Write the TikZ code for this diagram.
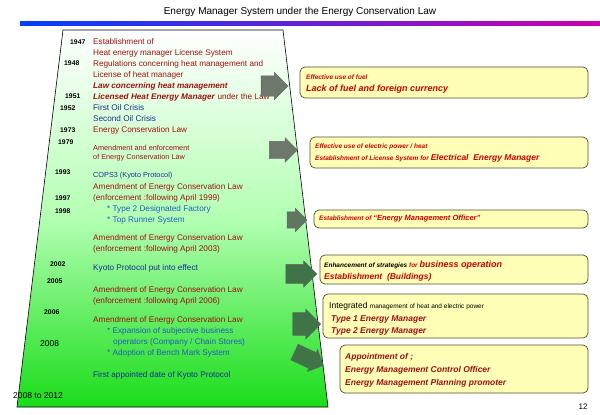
\documentclass[tikz,border=0pt]{standalone}
\usepackage{fontspec}
\setmainfont{Liberation Sans}
\usetikzlibrary{shapes.arrows}
\definecolor{lawred}{HTML}{A01010}
\definecolor{crisisblue}{HTML}{1A2E90}
\definecolor{itemblue}{HTML}{1F5FC0}
\definecolor{boxred}{HTML}{D00000}
\definecolor{boxfill}{HTML}{FFFFB8}
\definecolor{boxdraw}{HTML}{505030}
\definecolor{agray}{HTML}{6E776C}
\definecolor{agreen}{HTML}{3E7446}
\tikzset{
  txt/.style={anchor=west,inner sep=0pt,font=\fontsize{8.2}{9}\selectfont},
  yr/.style={anchor=west,inner sep=0pt,font=\fontsize{6.8}{8}\selectfont\bfseries},
  law/.style={txt,text=lawred},
  cri/.style={txt,text=crisisblue},
  itm/.style={txt,text=itemblue},
  ybox/.style={draw=boxdraw,line width=0.7pt,fill=boxfill,rounded corners=5pt},
  bt/.style={anchor=west,inner sep=0pt,text=boxred,font=\fontsize{6.5}{8}\selectfont\bfseries\itshape},
  bbig/.style={anchor=west,inner sep=0pt,text=boxred,font=\fontsize{9}{11}\selectfont\bfseries\itshape},
  barrow/.style={single arrow,draw=black!60,line width=0.4pt,single arrow head extend=3.5pt,single arrow tip angle=90,inner xsep=0pt,inner ysep=0pt},
}
\begin{document}
\begin{tikzpicture}[x=1pt,y=-1pt]
\useasboundingbox (0,0) rectangle (600,415);
\fill[white] (0,0) rectangle (600,415);
% title
\node[font=\fontsize{10}{12}\selectfont] (title) at (300,12) {Energy Manager System under the Energy Conservation Law};
\shade[left color=blue!75!cyan, right color=magenta!60!red!80!blue] (20,21) rectangle (600,25);
% trapezoid
\shade[top color=white, bottom color=green!85!black!90, middle color=green!30] (63,30) -- (283,30) -- (328,407) -- (17,407) -- cycle;
\draw[line width=0.6pt] (63,30) -- (283,30) -- (328,407) -- (17,407) -- cycle;
% years
\node[yr] (y1947) at (70,42) {1947};
\node[yr] (y1948) at (64,63) {1948};
\node[yr] (y1951) at (65,96) {1951};
\node[yr] (y1952) at (60,108) {1952};
\node[yr] (y1973) at (60,130) {1973};
\node[yr] (y1979) at (58,142) {1979};
\node[yr] (y1993) at (55,172) {1993};
\node[yr] (y1997) at (55,198) {1997};
\node[yr] (y1998) at (55,211) {1998};
\node[yr] (y2002) at (50,264) {2002};
\node[yr] (y2005) at (47,281) {2005};
\node[yr] (y2006) at (44,312) {2006};
\node[yr,font=\fontsize{8.5}{9}\selectfont] (y2008) at (40,344) {2008};
\node[yr,font=\fontsize{8.5}{9}\selectfont] (y0812) at (13,396) {2008 to 2012};
% texts
\node[law] (t1) at (93,42) {Establishment of};
\node[law] (t2) at (93,53) {Heat energy manager License System};
\node[law] (t3) at (93,64) {Regulations concerning heat management and};
\node[law] (t4) at (93,75) {License of heat manager};
\node[law,font=\fontsize{8.2}{9}\selectfont\itshape\bfseries] (t5) at (93,86) {Law concerning heat management};
\node[law] (t6) at (93,97) {\textbf{\textit{Licensed Heat Energy Manager}} under the Law};
\node[cri] (t7) at (93,108) {First Oil Crisis};
\node[cri] (t8) at (93,119) {Second Oil Crisis};
\node[law] (t9) at (93,130) {Energy Conservation Law};
\node[law,font=\fontsize{7.3}{8}\selectfont] (t10) at (93,148) {Amendment and enforcement};
\node[law,font=\fontsize{7.3}{8}\selectfont] (t11) at (93,158) {of Energy Conservation Law};
\node[cri,font=\fontsize{7.3}{8}\selectfont] (t12) at (93,176) {COPS3 (Kyoto Protocol)};
\node[law] (t13) at (93,187) {Amendment of Energy Conservation Law};
\node[law] (t14) at (93,198) {(enforcement :following April 1999)};
\node[itm] (t15) at (107,209) {* Type 2 Designated Factory};
\node[itm] (t16) at (107,220) {* Top Runner System};
\node[law] (t17) at (93,238) {Amendment of Energy Conservation Law};
\node[law] (t18) at (93,249) {(enforcement :following April 2003)};
\node[cri] (t19) at (93,268) {Kyoto Protocol put into effect};
\node[law] (t20) at (93,290) {Amendment of Energy Conservation Law};
\node[law] (t21) at (93,301) {(enforcement :following April 2006)};
\node[law] (t22) at (93,320) {Amendment of Energy Conservation Law};
\node[itm] (t23) at (107,331) {* Expansion of subjective business};
\node[itm] (t24) at (113,342) {operators (Company / Chain Stores)};
\node[itm] (t25) at (107,353) {* Adoption of Bench Mark System};
\node[cri] (t26) at (93,375) {First appointed date of Kyoto Protocol};
% boxes
\draw[ybox] (300,67) rectangle (588,98);
\node[bt] (b1a) at (306,77) {Effective use of fuel};
\node[bbig] (b1b) at (306,89) {Lack of fuel and foreign currency};
\draw[ybox] (310,137) rectangle (588,168);
\node[bt] (b2a) at (315,147) {Effective use of electric power / heat};
\node[bt] (b2b) at (315,158) {Establishment of License System for {\fontsize{8.5}{10}\selectfont Electrical\ \ Energy Manager}};
\draw[ybox] (314,210) rectangle (588,228);
\node[bt] (b3) at (319,219) {Establishment of {\fontsize{7.5}{9}\selectfont ``Energy Management Officer''}};
\draw[ybox] (320,255) rectangle (588,284);
\node[bt,text=black] (b4a) at (324,265) {Enhancement of strategies {\color{boxred}for \fontsize{9}{10}\selectfont business operation}};
\node[bbig,font=\fontsize{8.5}{10}\selectfont\bfseries\itshape] (b4b) at (324,277) {Establishment\ \ (Buildings)};
\draw[ybox] (323,294) rectangle (588,338);
\node[anchor=west,inner sep=0pt,font=\fontsize{8.5}{10}\selectfont] (b5a) at (329,306) {Integrated {\fontsize{6.5}{8}\selectfont management of heat and electric power}};
\node[bbig,font=\fontsize{8.5}{10}\selectfont\bfseries\itshape,text=lawred] (b5b) at (331,319) {Type 1 Energy Manager};
\node[bbig,font=\fontsize{8.5}{10}\selectfont\bfseries\itshape,text=lawred] (b5c) at (331,331) {Type 2 Energy Manager};
\draw[ybox] (340,345) rectangle (588,393);
\node[bbig,font=\fontsize{8.5}{10}\selectfont\bfseries\itshape,text=lawred] (b6a) at (345,357) {Appointment of ;};
\node[bbig,font=\fontsize{8.5}{10}\selectfont\bfseries\itshape,text=lawred] (b6b) at (345,370) {Energy Management Control Officer};
\node[bbig,font=\fontsize{8.5}{10}\selectfont\bfseries\itshape,text=lawred] (b6c) at (345,383) {Energy Management Planning promoter};
% arrows
\node[barrow,fill=agray,minimum height=27pt,minimum width=27pt] (a1) at (269.5,86) {\rule{0pt}{20pt}};
\node[barrow,fill=agray,minimum height=28pt,minimum width=24pt] (a2) at (279,150) {\rule{0pt}{17pt}};
\node[barrow,fill=agray!70!agreen,minimum height=20pt,minimum width=23pt] (a3) at (293,220) {\rule{0pt}{16pt}};
\node[barrow,fill=agreen,minimum height=31pt,minimum width=26pt] (a4) at (296.5,274) {\rule{0pt}{19pt}};
\node[barrow,fill=agreen,minimum height=28pt,minimum width=30pt] (a5) at (301,324) {\rule{0pt}{22pt}};
\node[barrow,fill=agreen,minimum height=32pt,minimum width=24pt,rotate=-25] (a6) at (305,357) {\rule{0pt}{17pt}};
\node[font=\fontsize{8}{9}\selectfont] (pg) at (583,407) {12};
\end{tikzpicture}
\end{document}
